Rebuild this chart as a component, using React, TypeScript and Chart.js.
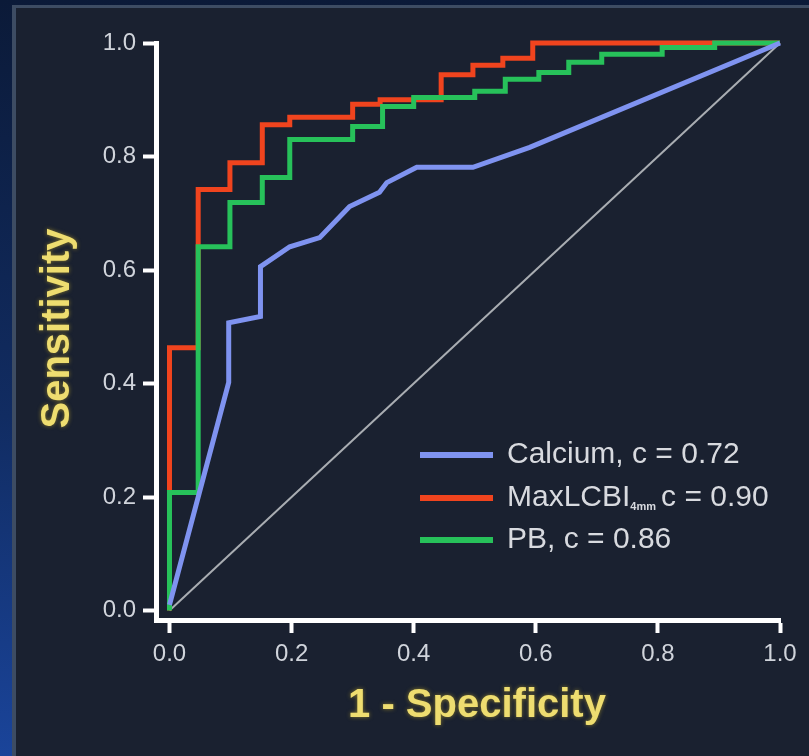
import React, { useEffect, useRef } from 'react';
import { Chart, registerables } from 'chart.js';

Chart.register(...registerables);

// ---- Data ----
const calciumX = [0, 0.097, 0.097, 0.149, 0.149, 0.197, 0.246, 0.295, 0.344, 0.356, 0.405, 0.497, 0.59, 1.0];
const calciumY = [0.01, 0.402, 0.507, 0.518, 0.606, 0.641, 0.657, 0.712, 0.737, 0.754, 0.781, 0.781, 0.816, 1.0];

const maxlcbiX = [0, 0, 0.047, 0.047, 0.099, 0.099, 0.152, 0.152, 0.197, 0.197, 0.30, 0.30, 0.345, 0.345, 0.445, 0.445, 0.497, 0.497, 0.546, 0.546, 0.595, 0.595, 1.0];
const maxlcbiY = [0, 0.463, 0.463, 0.742, 0.742, 0.789, 0.789, 0.856, 0.856, 0.869, 0.869, 0.892, 0.892, 0.90, 0.90, 0.944, 0.944, 0.961, 0.961, 0.973, 0.973, 1.0, 1.0];

const pbX = [0, 0, 0.047, 0.047, 0.099, 0.099, 0.152, 0.152, 0.197, 0.197, 0.30, 0.30, 0.349, 0.349, 0.40, 0.40, 0.50, 0.50, 0.55, 0.55, 0.605, 0.605, 0.654, 0.654, 0.708, 0.708, 0.807, 0.807, 0.893, 0.893, 1.0];
const pbY = [0, 0.208, 0.208, 0.641, 0.641, 0.719, 0.719, 0.763, 0.763, 0.83, 0.83, 0.853, 0.853, 0.888, 0.888, 0.904, 0.904, 0.915, 0.915, 0.936, 0.936, 0.948, 0.948, 0.966, 0.966, 0.98, 0.98, 0.992, 0.992, 1.0, 1.0];

const chanceX = [0, 1];
const chanceY = [0, 1];

const tickValues = [0, 0.2, 0.4, 0.6, 0.8, 1.0];

const legendMain = ['Calcium, c = 0.72', 'MaxLCBI', 'PB, c = 0.86'];
const legendSub = ['', '4mm', ''];
const legendTail = ['', 'c = 0.90', ''];

const xTitle = '1 - Specificity';
const yTitle = 'Sensitivity';

// ---- Styles ----
const BLUE = '#7f93f0';
const RED = '#f0441e';
const GREEN = '#27c15a';
const GREY = '#a9adb2';
const legendColors = [BLUE, RED, GREEN];
const FONT = '"Liberation Sans", Arial, sans-serif';
const TICK_COLOR = '#d0d4db';
const TITLE_COLOR = '#eedd70';

const toPoints = (xs: number[], ys: number[]) => xs.map((x, i) => ({ x, y: ys[i] }));

const overlayPlugin = {
  id: 'overlay',
  afterDraw(chart: any) {
    const { ctx, chartArea } = chart;
    ctx.save();
    // Axis titles
    ctx.fillStyle = TITLE_COLOR;
    ctx.shadowColor = 'rgba(220,190,40,0.55)';
    ctx.shadowBlur = 4;
    ctx.font = `bold 40px ${FONT}`;
    ctx.textAlign = 'center';
    ctx.textBaseline = 'middle';
    ctx.fillText(xTitle, chartArea.left + 321, chartArea.bottom + 86);
    ctx.save();
    ctx.translate(chartArea.left - 98, (chartArea.top + chartArea.bottom) / 2 - 3);
    ctx.rotate(-Math.PI / 2);
    ctx.fillText(yTitle, 0, 0);
    ctx.restore();
    ctx.shadowBlur = 0;
    ctx.shadowColor = 'transparent';

    // Legend
    const lx = chartArea.left + 264;
    const lineLen = 73;
    const tx = lx + 87;
    const rows = [chartArea.top + 412, chartArea.top + 455, chartArea.top + 497];
    legendMain.forEach((label, i) => {
      const y = rows[i];
      ctx.strokeStyle = legendColors[i];
      ctx.lineWidth = 6;
      ctx.lineCap = 'butt';
      ctx.beginPath();
      ctx.moveTo(lx, y);
      ctx.lineTo(lx + lineLen, y);
      ctx.stroke();
      ctx.fillStyle = '#d8dadf';
      ctx.textAlign = 'left';
      ctx.textBaseline = 'middle';
      ctx.font = `30px ${FONT}`;
      ctx.fillText(label, tx, y);
      let x = tx + ctx.measureText(label).width;
      if (legendSub[i]) {
        ctx.font = `bold 11px ${FONT}`;
        ctx.fillText(legendSub[i], x, y + 9);
        x += ctx.measureText(legendSub[i]).width + 5;
      }
      if (legendTail[i]) {
        ctx.font = `30px ${FONT}`;
        ctx.fillText(legendTail[i], x, y);
      }
    });
    ctx.restore();
  },
};

export default function App() {
  const ref = useRef<HTMLCanvasElement>(null);

  useEffect(() => {
    if (!ref.current) return;
    const lineDs = (label: string, xs: number[], ys: number[], color: string, width: number, order: number) => ({
      label,
      data: toPoints(xs, ys),
      showLine: true,
      borderColor: color,
      backgroundColor: color,
      borderWidth: width,
      pointRadius: 0,
      pointHoverRadius: 0,
      borderJoinStyle: 'miter' as const,
      borderCapStyle: 'butt' as const,
      tension: 0,
      fill: false,
      clip: 8,
      order,
    });

    const axisCommon = (min: number) => ({
      type: 'linear' as const,
      min,
      max: 1,
      afterBuildTicks: (s: any) => {
        s.ticks = tickValues.map((v) => ({ value: v }));
      },
      ticks: {
        color: TICK_COLOR,
        font: { family: FONT, size: 24 },
        padding: 7,
        autoSkip: false,
        maxRotation: 0,
        callback: (v: any) => Number(v).toFixed(1),
      },
      grid: {
        display: true,
        drawOnChartArea: false,
        drawTicks: true,
        tickLength: 13,
        tickWidth: 4,
        tickColor: '#ffffff',
        color: '#ffffff',
      },
      border: { display: true, color: '#ffffff', width: 5 },
    });

    const chart = new Chart(ref.current, {
      type: 'scatter',
      data: {
        datasets: [
          lineDs('Calcium, c = 0.72', calciumX, calciumY, BLUE, 5, 0),
          lineDs('PB, c = 0.86', pbX, pbY, GREEN, 5, 1),
          lineDs('MaxLCBI4mm c = 0.90', maxlcbiX, maxlcbiY, RED, 5, 2),
          lineDs('Reference', chanceX, chanceY, GREY, 2, 3),
        ],
      },
      options: {
        responsive: false,
        animation: false,
        events: [],
        layout: { padding: { top: 43, right: 29, bottom: 0, left: 0 } },
        plugins: {
          legend: { display: false },
          tooltip: { enabled: false },
        },
        scales: {
          x: {
            ...axisCommon(-0.0221),
            afterFit: (s: any) => {
              s.height = 136;
            },
          },
          y: {
            ...axisCommon(-0.0167),
            afterFit: (s: any) => {
              s.width = 156;
            },
          },
        },
      },
      plugins: [overlayPlugin],
    });
    return () => chart.destroy();
  }, []);

  return (
    <div
      style={{
        position: 'fixed',
        left: 0,
        top: 0,
        width: 809,
        height: 756,
        overflow: 'hidden',
        background: 'linear-gradient(180deg, #0b1a38 0%, #112c62 55%, #1a449a 100%)',
      }}
    >
      <div
        style={{
          position: 'absolute',
          left: 12,
          top: 5,
          right: 0,
          bottom: 0,
          background: '#1a2130',
          borderLeft: '4px solid #3d4c63',
          borderTop: '3px solid #3d4c63',
        }}
      />
      <canvas
        ref={ref}
        width={809}
        height={756}
        style={{ position: 'absolute', left: 0, top: 0, width: 809, height: 756 }}
      />
    </div>
  );
}
